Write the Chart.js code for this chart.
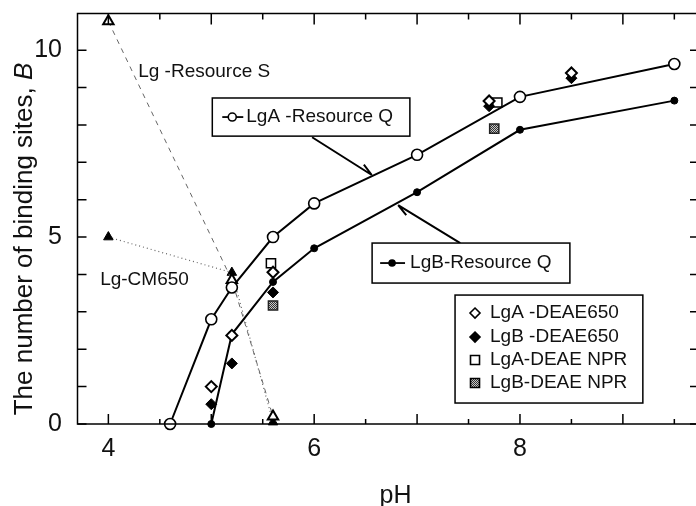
<!DOCTYPE html>
<html lang="en">
<head>
<meta charset="UTF-8">
<title>Binding sites vs pH</title>
<script src="https://cdn.jsdelivr.net/npm/chart.js@4.4.1/dist/chart.umd.min.js"></script>
<style>
  html, body { margin: 0; padding: 0; background: #fff; overflow: hidden; }
  #wrap { width: 700px; height: 506px; }
</style>
</head>
<body>
<div id="wrap"><canvas id="chart"></canvas></div>
<script>
// values (pH, number of binding sites B)
const phAQ = [4.6, 5.0, 5.2, 5.6, 6.0, 7.0, 8.0, 9.5];
const bAQ  = [0, 2.8, 3.65, 5.0, 5.9, 7.2, 8.75, 9.63];
const phBQ = [5.0, 5.2, 5.6, 6.0, 7.0, 8.0, 9.5];
const bBQ  = [0, 2.4, 3.8, 4.7, 6.2, 7.87, 8.65];
const phADEAE = [5.0, 5.2, 5.6, 7.7, 8.5];
const bADEAE  = [1.0, 2.37, 4.06, 8.64, 9.39];
const phBDEAE = [5.0, 5.2, 5.6, 7.7, 8.5];
const bBDEAE  = [0.53, 1.62, 3.52, 8.5, 9.25];
const phANPR = [5.58, 7.78];
const bANPR  = [4.3, 8.6];
const phBNPR = [5.6, 7.75];
const bBNPR  = [3.17, 7.9];
const phS = [4.0, 5.2, 5.6];
const bS  = [10.77, 3.85, 0.2];
const phCM = [4.0, 5.2, 5.6];
const bCM  = [5.0, 4.05, 0.05];
const xTickLabels = [4, 6, 8];
const yTickLabels = [0, 5, 10];

const FONT = '"Liberation Sans", Arial, Helvetica, sans-serif';
const pts = (xs, ys) => xs.map((x, i) => ({ x: x, y: ys[i] }));

// grey checker fill for the LgB-DEAE NPR squares
const pc = document.createElement('canvas');
pc.width = 2; pc.height = 2;
const pctx = pc.getContext('2d');
pctx.fillStyle = '#c8c8c8'; pctx.fillRect(0, 0, 2, 2);
pctx.fillStyle = '#333'; pctx.fillRect(0, 0, 1, 1); pctx.fillRect(1, 1, 1, 1);
const shade = pctx.createPattern(pc, 'repeat');

// small marker painter for the in-plot legends
function marker(ctx, kind, x, y, r, fill) {
  ctx.save();
  ctx.beginPath();
  if (kind === 'circle') ctx.arc(x, y, r, 0, Math.PI * 2);
  if (kind === 'diamond') { ctx.moveTo(x, y - r); ctx.lineTo(x + r, y); ctx.lineTo(x, y + r); ctx.lineTo(x - r, y); ctx.closePath(); }
  if (kind === 'square') ctx.rect(x - r, y - r, 2 * r, 2 * r);
  ctx.fillStyle = fill;
  ctx.fill();
  ctx.lineWidth = 1.6;
  ctx.strokeStyle = '#000';
  ctx.stroke();
  ctx.restore();
}

const framePlugin = {
  id: 'frame',
  afterDraw(chart) {
    const { ctx, chartArea: a, scales: { x, y } } = chart;
    const X = v => x.getPixelForValue(v);
    const Y = v => y.getPixelForValue(v);
    ctx.save();
    ctx.strokeStyle = '#000';
    ctx.lineWidth = 1.5;
    ctx.strokeRect(a.left, a.top, a.right - a.left, a.bottom - a.top);

    // inward tick marks on all four sides
    ctx.beginPath();
    for (let v = Math.ceil(x.min * 2) / 2; v <= x.max; v += 0.5) {
      const px = X(v), major = Number.isInteger(v);
      ctx.moveTo(px, a.bottom); ctx.lineTo(px, a.bottom - (major ? 10 : 5));
      ctx.moveTo(px, a.top); ctx.lineTo(px, a.top + (major ? 11 : 6));
    }
    for (let v = 0; v <= y.max; v += 1) {
      const py = Y(v);
      ctx.moveTo(a.left, py); ctx.lineTo(a.left + 9, py);
      ctx.moveTo(a.right, py); ctx.lineTo(a.right - 8, py);
    }
    ctx.stroke();

    ctx.fillStyle = '#111';
    ctx.textBaseline = 'middle';
    ctx.textAlign = 'left';
    ctx.font = '19px ' + FONT;

    // free labels for the cation exchangers
    ctx.fillText('Lg -Resource S', X(4.29), Y(9.41));
    ctx.fillText('Lg-CM650', X(3.92), Y(3.85));

    function box(x0, y0, x1, y1) {
      ctx.save();
      ctx.fillStyle = '#fff';
      ctx.fillRect(X(x0), Y(y0), X(x1) - X(x0), Y(y1) - Y(y0));
      ctx.lineWidth = 1.5;
      ctx.strokeRect(X(x0), Y(y0), X(x1) - X(x0), Y(y1) - Y(y0));
      ctx.restore();
    }
    function arrow(x0, y0, x1, y1) {
      const ax = X(x0), ay = Y(y0), bx = X(x1), by = Y(y1);
      const ang = Math.atan2(ay - by, ax - bx) + 0.35;
      ctx.save();
      ctx.lineWidth = 2;
      ctx.beginPath();
      ctx.moveTo(ax, ay); ctx.lineTo(bx, by);
      ctx.moveTo(bx, by); ctx.lineTo(bx + 13 * Math.cos(ang), by + 13 * Math.sin(ang));
      ctx.stroke();
      ctx.restore();
    }

    // LgA -Resource Q callout
    arrow(5.98, 7.67, 6.56, 6.66);
    box(5.01, 8.72, 6.93, 7.70);
    ctx.beginPath(); ctx.lineWidth = 1.8;
    ctx.moveTo(X(5.107), Y(8.21)); ctx.lineTo(X(5.311), Y(8.21)); ctx.stroke();
    marker(ctx, 'circle', X(5.204), Y(8.21), 4, '#fff');
    ctx.fillText('LgA -Resource Q', X(5.34), Y(8.21));

    // LgB-Resource Q callout
    arrow(7.42, 4.84, 6.816, 5.856);
    box(6.563, 4.84, 8.485, 3.77);
    ctx.beginPath(); ctx.lineWidth = 1.8;
    ctx.moveTo(X(6.641), Y(4.305)); ctx.lineTo(X(6.883), Y(4.305)); ctx.stroke();
    marker(ctx, 'circle', X(6.757), Y(4.305), 3, '#000');
    ctx.fillText('LgB-Resource Q', X(6.932), Y(4.305));

    // legend for the DEAE resins
    box(7.369, 3.449, 9.194, 0.561);
    const rows = [
      ['diamond', 5, '#fff', 'LgA -DEAE650', 2.968],
      ['diamond', 5, '#000', 'LgB -DEAE650', 2.326],
      ['square', 4.5, '#fff', 'LgA-DEAE NPR', 1.711],
      ['square', 4.5, shade, 'LgB-DEAE NPR', 1.096]
    ];
    rows.forEach(r => {
      marker(ctx, r[0], X(7.563), Y(r[4]), r[1], r[2]);
      ctx.fillStyle = '#111';
      ctx.fillText(r[3], X(7.709), Y(r[4]));
    });

    // axis titles
    ctx.textBaseline = 'alphabetic';
    ctx.textAlign = 'center';
    ctx.font = '25px ' + FONT;
    ctx.fillText('pH', 395.5, 503);

    ctx.translate(32, 239);
    ctx.rotate(-Math.PI / 2);
    ctx.textAlign = 'left';
    ctx.font = '26px ' + FONT;
    const t1 = 'The number of binding sites, ';
    const w1 = ctx.measureText(t1).width;
    ctx.font = 'italic 26px ' + FONT;
    const w2 = ctx.measureText('B').width;
    const start = -(w1 + w2) / 2;
    ctx.font = '26px ' + FONT;
    ctx.fillText(t1, start, 0);
    ctx.font = 'italic 26px ' + FONT;
    ctx.fillText('B', start + w1, 0);
    ctx.restore();
  }
};

const ctx = document.getElementById('chart').getContext('2d');
new Chart(ctx, {
  type: 'scatter',
  data: {
    datasets: [
      {
        label: 'LgA -Resource Q', data: pts(phAQ, bAQ), showLine: true,
        borderColor: '#000', borderWidth: 2, pointStyle: 'circle', pointRadius: 5.5,
        pointBackgroundColor: '#fff', pointBorderColor: '#000', pointBorderWidth: 1.6
      },
      {
        label: 'LgA -DEAE650', data: pts(phADEAE, bADEAE), pointStyle: 'rectRot', pointRadius: 5.5,
        pointBackgroundColor: '#fff', pointBorderColor: '#000', pointBorderWidth: 2
      },
      {
        label: 'LgB -DEAE650', data: pts(phBDEAE, bBDEAE), pointStyle: 'rectRot', pointRadius: 5.5,
        pointBackgroundColor: '#000', pointBorderColor: '#000', pointBorderWidth: 1
      },
      {
        label: 'LgA-DEAE NPR', data: pts(phANPR, bANPR), pointStyle: 'rect', pointRadius: 6.5,
        pointBackgroundColor: '#fff', pointBorderColor: '#000', pointBorderWidth: 1.5
      },
      {
        label: 'LgB-DEAE NPR', data: pts(phBNPR, bBNPR), pointStyle: 'rect', pointRadius: 6.5,
        pointBackgroundColor: shade, pointBorderColor: '#222', pointBorderWidth: 1.5
      },
      {
        label: 'LgB-Resource Q', data: pts(phBQ, bBQ), showLine: true,
        borderColor: '#000', borderWidth: 2, pointStyle: 'circle', pointRadius: 3.5,
        pointBackgroundColor: '#000', pointBorderColor: '#000', pointBorderWidth: 1
      },
      {
        label: 'Lg -Resource S', data: pts(phS, bS), showLine: true,
        borderColor: '#666', borderWidth: 1, borderDash: [5, 5], pointStyle: 'triangle', pointRadius: 6,
        pointBackgroundColor: '#fff', pointBorderColor: '#000', pointBorderWidth: 2
      },
      {
        label: 'Lg-CM650', data: pts(phCM, bCM), showLine: true,
        borderColor: '#666', borderWidth: 1.2, borderDash: [1, 3], pointStyle: 'triangle', pointRadius: 5.5,
        pointBackgroundColor: '#000', pointBorderColor: '#000', pointBorderWidth: 1
      }
    ]
  },
  options: {
    responsive: true,
    maintainAspectRatio: false,
    animation: false,
    devicePixelRatio: 1,
    clip: false,
    layout: { autoPadding: false, padding: { left: 0, top: 13.5, right: 2, bottom: 0 } },
    plugins: { legend: { display: false }, tooltip: { enabled: false } },
    scales: {
      x: {
        type: 'linear', min: 3.7, max: 9.73,
        grid: { display: false }, border: { display: false },
        afterFit: s => { s.height = 82; s.paddingLeft = 0; s.paddingRight = 0; },
        afterBuildTicks: s => { s.ticks = xTickLabels.map(v => ({ value: v })); },
        ticks: { font: { family: FONT, size: 25 }, color: '#111', padding: 2.5, maxRotation: 0, autoSkip: false }
      },
      y: {
        min: 0, max: 10.98,
        grid: { display: false }, border: { display: false },
        afterFit: s => { s.width = 77.5; s.paddingTop = 0; s.paddingBottom = 0; },
        afterBuildTicks: s => { s.ticks = yTickLabels.map(v => ({ value: v })); },
        ticks: { font: { family: FONT, size: 25 }, color: '#111', padding: 7.5 }
      }
    }
  },
  plugins: [framePlugin]
});
</script>
</body>
</html>
